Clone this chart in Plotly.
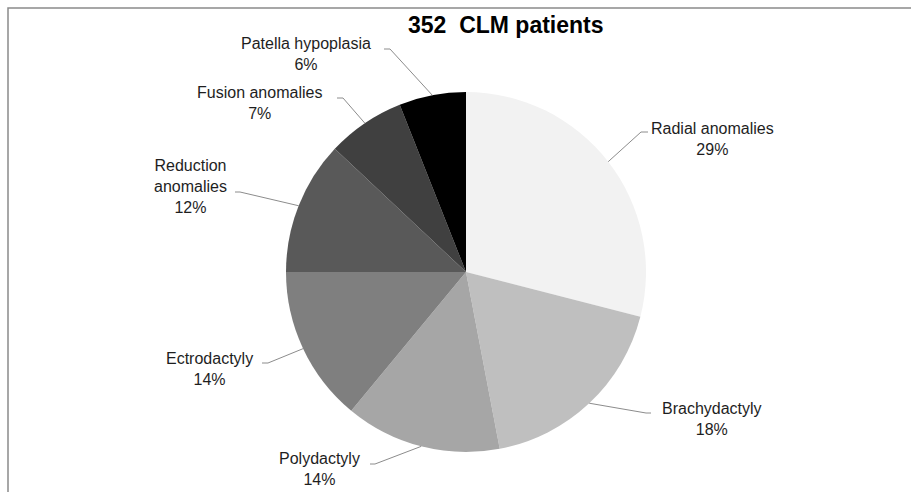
import math
import plotly.graph_objects as go

# ---------------- data ----------------
categories = ["Radial anomalies", "Brachydactyly", "Polydactyly", "Ectrodactyly",
              "Reduction anomalies", "Fusion anomalies", "Patella hypoplasia"]
values = [29, 18, 14, 14, 12, 7, 6]
label_names = ["Radial anomalies", "Brachydactyly", "Polydactyly", "Ectrodactyly",
               "Reduction<br>anomalies", "Fusion anomalies", "Patella hypoplasia"]
title_text = "352\u00a0 CLM patients"

# ---------------- layout constants (pixels) ----------------
W, H = 911, 492
CX, CY, R = 466, 272, 180
colors = ["#f2f2f2", "#bfbfbf", "#a6a6a6", "#7f7f7f", "#595959", "#404040", "#000000"]
# (elbow x, elbow y, stub end x, label centre x, label centre y)
label_layout = [
    (641, 132, 648, 712, 139),
    (646, 413, 651, 712, 419),
    (375, 464, 370, 319, 469),
    (268, 363, 262, 209, 369),
    (240, 192, 235, 190, 186),
    (343, 98, 337, 259, 103),
    (390, 49, 384, 306, 54),
]


def px(x):
    return x / W


def py(y):
    return 1 - y / H


fig = go.Figure(go.Pie(
    labels=categories, values=values, sort=False, direction="clockwise", rotation=0,
    marker=dict(colors=colors, line=dict(width=0)),
    textinfo="none", hoverinfo="label+percent", showlegend=False,
    domain=dict(x=[px(CX - R), px(CX + R)], y=[py(CY + R), py(CY - R)]),
))

total = sum(values)
cum = 0.0
shapes = []
annotations = []
for v, name, (ex, ey, sx, lx, ly) in zip(values, label_names, label_layout):
    mid = (cum + v / 2) / total * 2 * math.pi
    cum += v
    ax = CX + R * math.sin(mid)
    ay = CY - R * math.cos(mid)
    path = f"M {px(ax)},{py(ay)} L {px(ex)},{py(ey)} L {px(sx)},{py(ey)}"
    shapes.append(dict(type="path", xref="paper", yref="paper", path=path,
                       line=dict(color="#8c8c8c", width=1)))
    pct = round(v / total * 100)
    annotations.append(dict(
        x=px(lx), y=py(ly), xref="paper", yref="paper", xanchor="center", yanchor="middle",
        text=f"{name}<br>{pct}%", showarrow=False, align="center",
        font=dict(family="Liberation Sans, Arial, sans-serif", size=16, color="#1e1e1e"),
    ))

annotations.append(dict(
    x=px(506), y=py(25), xref="paper", yref="paper", xanchor="center", yanchor="middle",
    text=f"<b>{title_text}</b>", showarrow=False,
    font=dict(family="Liberation Sans, Arial, sans-serif", size=23, color="#000000"),
))

# chart frame (extends beyond window on right and bottom)
shapes.append(dict(type="rect", xref="paper", yref="paper",
                   x0=px(8), y0=-0.1, x1=1.1, y1=py(8),
                   line=dict(color="#8a8a8a", width=1.5), fillcolor="rgba(0,0,0,0)"))

fig.update_layout(
    width=W, height=H, margin=dict(l=0, r=0, t=0, b=0),
    paper_bgcolor="white", plot_bgcolor="white",
    shapes=shapes, annotations=annotations,
)

fig.write_html("out.html", config={"displayModeBar": False},
               post_script="document.body.style.margin='0';document.body.style.overflow='hidden';")
